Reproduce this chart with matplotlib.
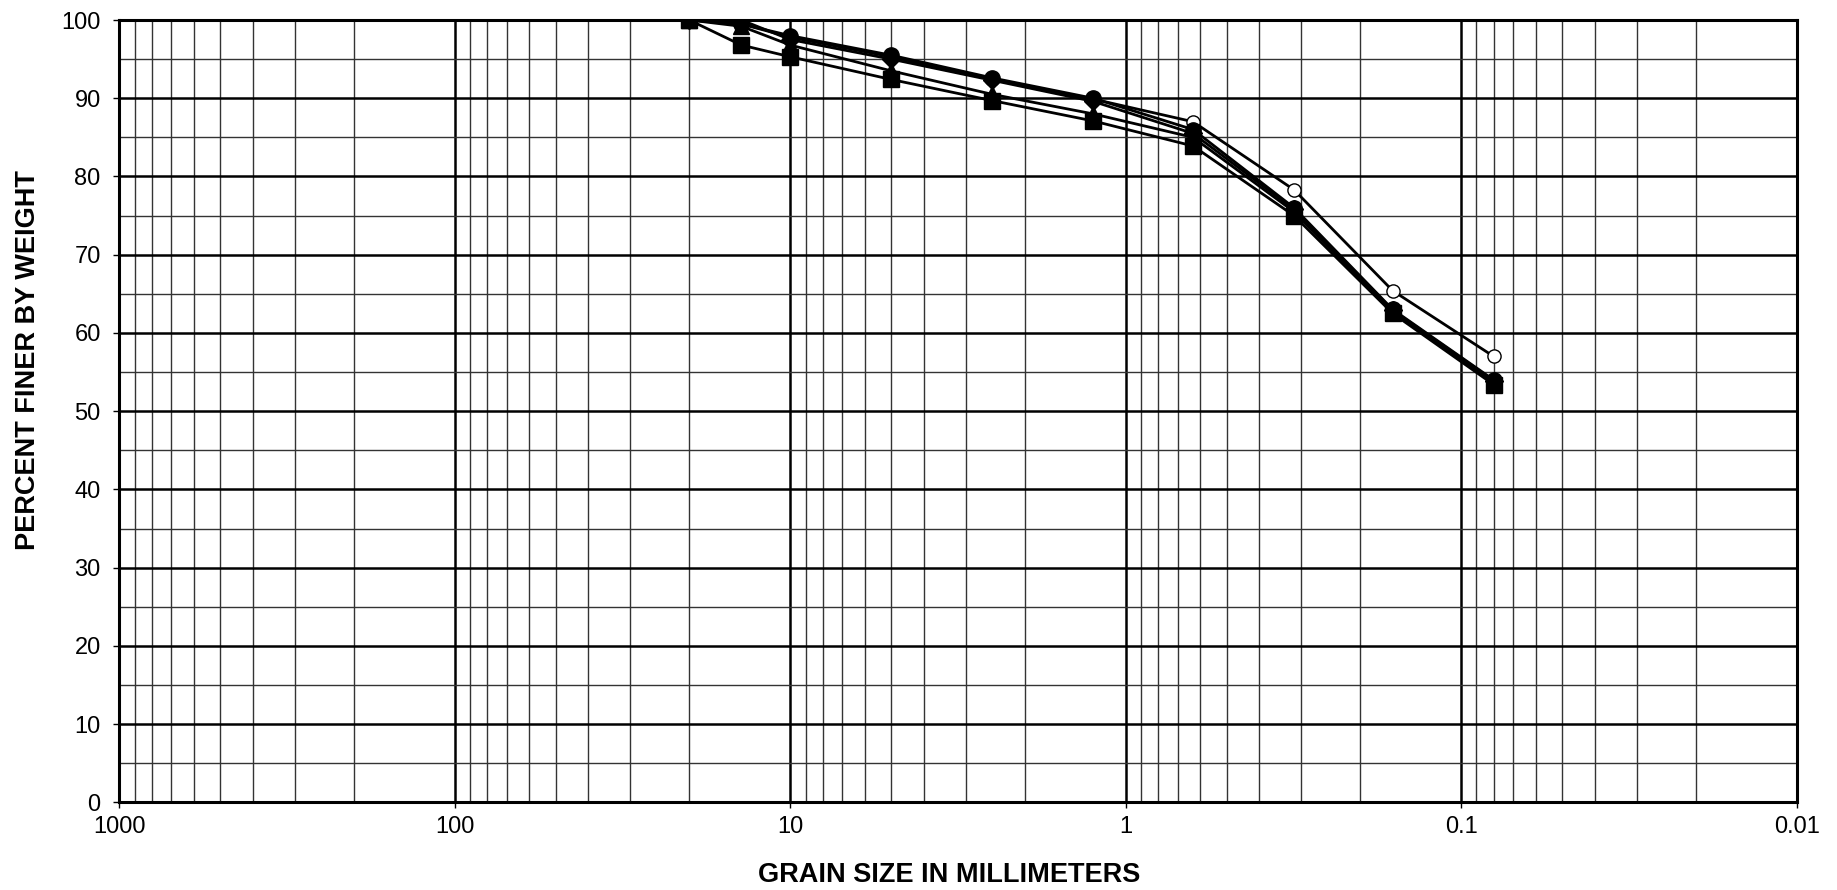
import numpy as np
import matplotlib
matplotlib.use("Agg")
import matplotlib.pyplot as plt
from matplotlib.ticker import FixedLocator, NullFormatter

plt.rcParams['font.family'] = ['Liberation Sans', 'DejaVu Sans']

# sieve sizes (mm)
sieve_mm = [20, 14, 10, 5, 2.5, 1.25, 0.63, 0.315, 0.16, 0.08]

# percent passing for each sample
pct_circle = [100, 99.5, 98.0, 95.5, 92.6, 90.0, 86.0, 76.0, 63.0, 54.0]
pct_diamond = [100, 100, 97.5, 95.0, 92.3, 89.6, 85.5, 75.8, 62.9, 53.9]
pct_triangle = [100, 99.2, 96.8, 93.5, 90.5, 88.0, 85.0, 75.5, 62.7, 53.7]
pct_square = [100, 96.8, 95.3, 92.4, 89.7, 87.1, 83.9, 75.0, 62.5, 53.4]
pct_open = [100, 99.5, 97.8, 95.3, 92.4, 89.9, 87.0, 78.3, 65.4, 57.0]

x_labels = ['1000', '100', '10', '1', '0.1', '0.01']
x_major = [1000, 100, 10, 1, 0.1, 0.01]

fig = plt.figure(figsize=(18.37, 8.90), dpi=100)
ax = fig.add_axes([0.065, 0.0985, 0.913, 0.879])

ax.set_xscale('log')
ax.set_xlim(1000, 0.01)
ax.set_ylim(0, 100)

# grid
minor_x = [m * 10.0 ** e for e in range(-2, 3) for m in range(2, 10)]
ax.xaxis.set_major_locator(FixedLocator(x_major))
ax.xaxis.set_minor_locator(FixedLocator(minor_x))
ax.set_xticklabels(x_labels)
ax.xaxis.set_minor_formatter(NullFormatter())
ax.set_yticks(np.arange(0, 101, 10))
ax.set_yticks(np.arange(5, 100, 10), minor=True)

ax.grid(which='major', color='black', lw=1.8)
ax.grid(which='minor', color='#333333', lw=1.0)
ax.set_axisbelow(True)

ax.tick_params(axis='y', which='major', length=4.5, width=1.0, labelsize=17, direction='out', pad=9)
ax.tick_params(axis='x', which='major', length=4.5, width=1.0, labelsize=17, direction='out', pad=5)
ax.tick_params(which='minor', length=0)
for s in ax.spines.values():
    s.set_linewidth(2.2)

# data series
ax.plot(sieve_mm, pct_open, color='black', lw=2.0, marker='o', ms=9.5,
        mfc='white', mew=1.0, zorder=3)
ax.plot(sieve_mm, pct_circle, color='black', lw=2.0, marker='o', ms=11, zorder=4)
ax.plot(sieve_mm, pct_triangle, color='black', lw=2.0, marker='^', ms=11, zorder=4)
ax.plot(sieve_mm, pct_diamond, color='black', lw=2.0, marker='D', ms=9, zorder=5)
ax.plot(sieve_mm, pct_square, color='black', lw=2.0, marker='s', ms=12, zorder=6)

ax.set_xlabel('GRAIN SIZE IN MILLIMETERS', fontsize=19.5, fontweight='bold', va='center')
ax.set_ylabel('PERCENT FINER BY WEIGHT', fontsize=19.5, fontweight='bold', va='center')
ax.xaxis.set_label_coords(0.495, -0.093)
ax.yaxis.set_label_coords(-0.0545, 0.565)

fig.savefig('out.png', dpi=100)
